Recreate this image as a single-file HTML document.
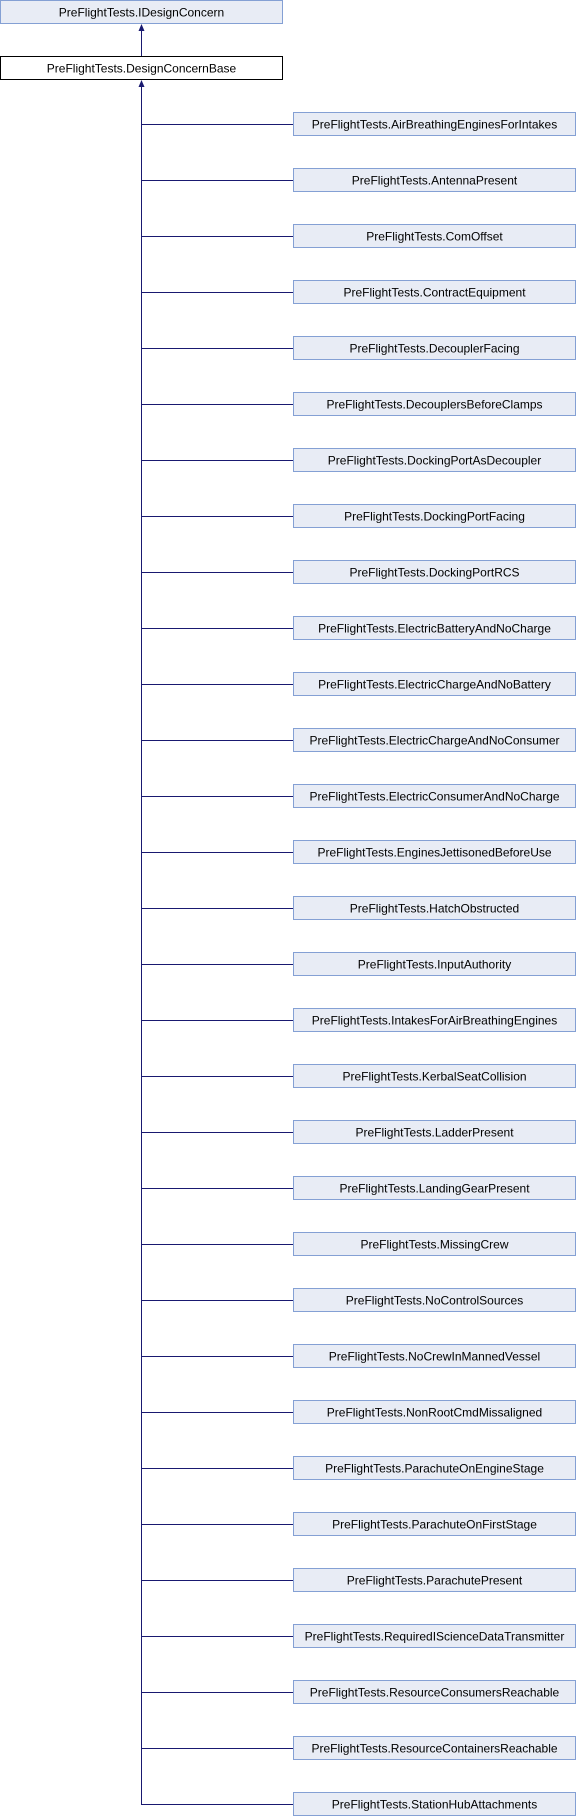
<!DOCTYPE html>
<html><head><meta charset="utf-8"><style>
html,body{margin:0;padding:0;background:#fff;}
svg{display:block;}
text{font-family:"Liberation Sans",Arial,sans-serif;font-size:12px;fill:#000;}
</style></head><body>
<svg width="576" height="1816" viewBox="0 0 576 1816" xmlns="http://www.w3.org/2000/svg">
<rect x="0.5" y="0.5" width="282" height="23" fill="#e8ecf5" stroke="#84a0d4"/>
<text x="141.5" y="16.5" text-anchor="middle">PreFlightTests.IDesignConcern</text>
<rect x="0.5" y="56.5" width="282" height="23" fill="#fff" stroke="#000"/>
<text x="141.5" y="72.5" text-anchor="middle">PreFlightTests.DesignConcernBase</text>
<line x1="141.5" y1="30" x2="141.5" y2="56" stroke="#191970" stroke-width="1"/>
<polygon points="141.5,24 138.5,31 144.5,31" fill="#191970"/>
<line x1="141.5" y1="86" x2="141.5" y2="1805" stroke="#191970" stroke-width="1"/>
<polygon points="141.5,80 138.5,87 144.5,87" fill="#191970"/>
<g id="kids"></g>
</svg>
<script>
var names=["AirBreathingEnginesForIntakes","AntennaPresent","ComOffset","ContractEquipment","DecouplerFacing","DecouplersBeforeClamps","DockingPortAsDecoupler","DockingPortFacing","DockingPortRCS","ElectricBatteryAndNoCharge","ElectricChargeAndNoBattery","ElectricChargeAndNoConsumer","ElectricConsumerAndNoCharge","EnginesJettisonedBeforeUse","HatchObstructed","InputAuthority","IntakesForAirBreathingEngines","KerbalSeatCollision","LadderPresent","LandingGearPresent","MissingCrew","NoControlSources","NoCrewInMannedVessel","NonRootCmdMissaligned","ParachuteOnEngineStage","ParachuteOnFirstStage","ParachutePresent","RequiredIScienceDataTransmitter","ResourceConsumersReachable","ResourceContainersReachable","StationHubAttachments"];
var s="";
for(var i=0;i<names.length;i++){var y=112+56*i;
s+='<line x1="141" y1="'+(y+12.5)+'" x2="293" y2="'+(y+12.5)+'" stroke="#191970"/>';
s+='<rect x="293.5" y="'+(y+0.5)+'" width="282" height="23" fill="#e8ecf5" stroke="#84a0d4"/>';
s+='<text x="434.5" y="'+(y+16.5)+'" text-anchor="middle">PreFlightTests.'+names[i]+'</text>';}
document.getElementById("kids").innerHTML=s;
</script>
</body></html>
